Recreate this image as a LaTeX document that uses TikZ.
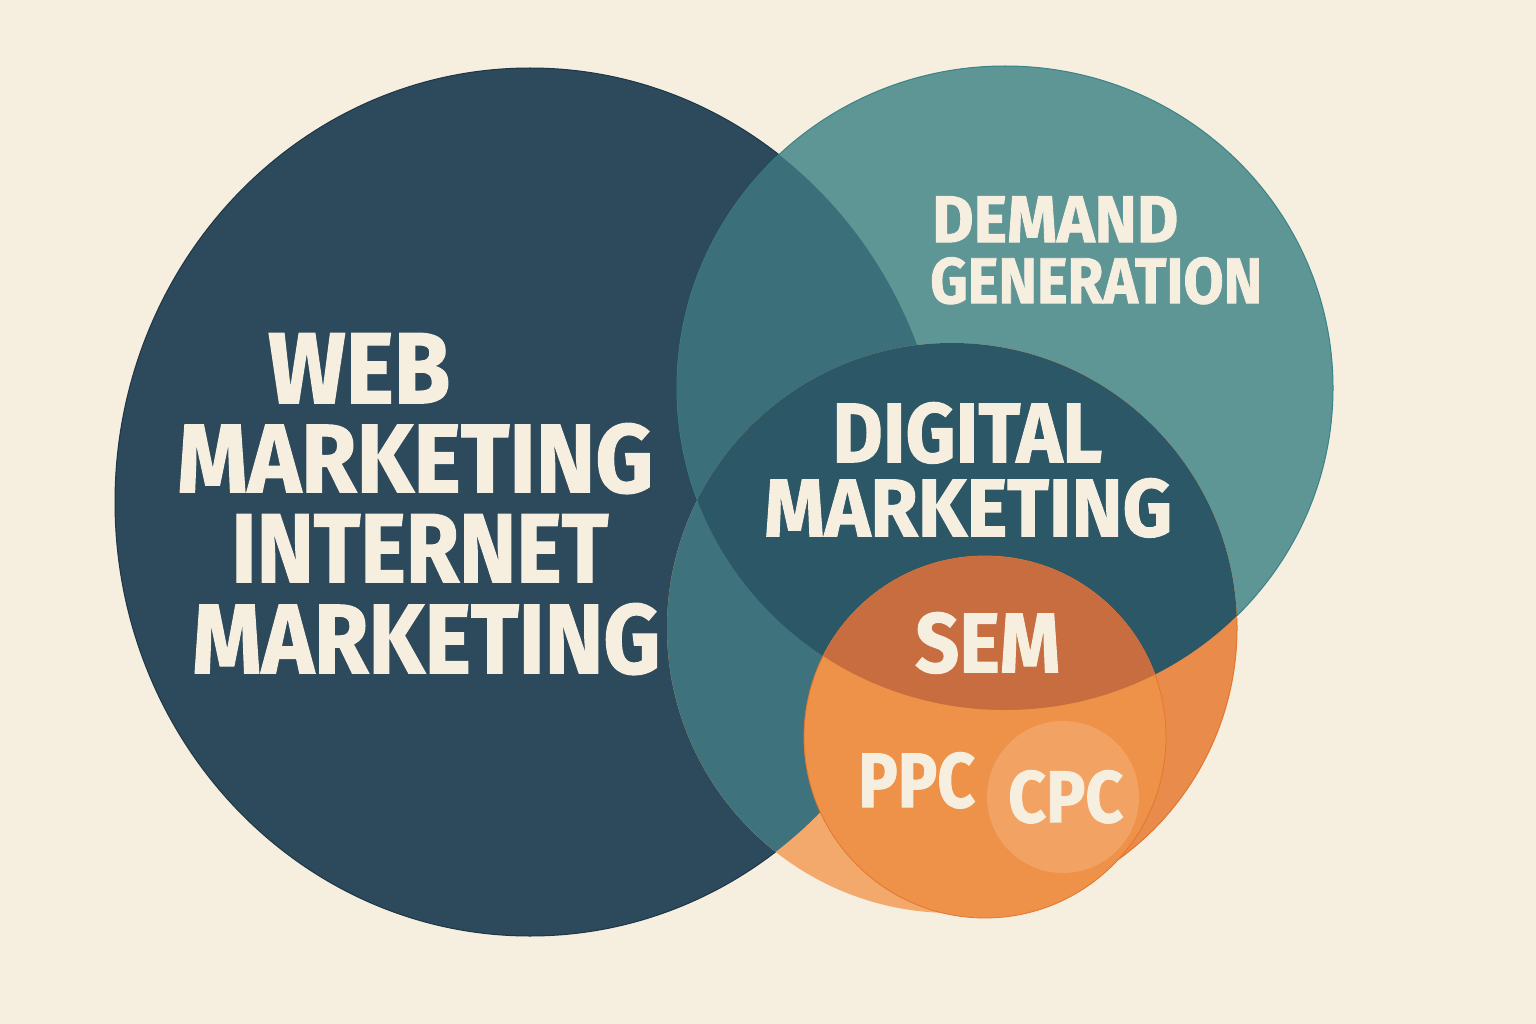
\documentclass[tikz,border=0pt]{standalone}
\usepackage{fontspec}
\usepackage{graphicx}
\newfontfamily\lblfont{Fira Sans}[BoldFeatures={FakeBold=1.3}]
\definecolor{bgc}{HTML}{F6EEDF}
\definecolor{navyc}{HTML}{2C4A5C}
\definecolor{navyedge}{HTML}{1E3646}
\definecolor{tealc}{HTML}{5E9595}
\definecolor{tealedge}{HTML}{3A8388}
\definecolor{lensc}{HTML}{3B6F7A}
\definecolor{midtealc}{HTML}{3E727D}
\definecolor{digc}{HTML}{2C5767}
\definecolor{lightorc}{HTML}{F3A86C}
\definecolor{rightorc}{HTML}{E98B4A}
\definecolor{orc}{HTML}{EE9149}
\definecolor{oredge}{HTML}{E4772F}
\definecolor{semc}{HTML}{C76D40}
\definecolor{cpcc}{HTML}{F2A363}
\definecolor{txtc}{HTML}{F6EEDF}
\tikzset{
  lbl/.style={anchor=north west, inner sep=0pt, text=txtc},
}
\begin{document}
\begin{tikzpicture}[x=1pt,y=-1pt]
\useasboundingbox (0,0) rectangle (1536,1024);
\fill[bgc] (0,0) rectangle (1536,1024);
% centres
\coordinate (A) at (530,502);
\coordinate (B) at (1005,388);
\coordinate (E) at (952,628);
\coordinate (F) at (985,737);
\coordinate (C) at (1063,797);
% big navy
\fill[navyc, draw=navyedge, line width=1pt] (A) ellipse [x radius=415pt, y radius=434pt];
% demand generation teal
\fill[tealc, draw=tealedge, line width=1pt] (B) ellipse [x radius=328pt, y radius=322pt];
\begin{scope}
  \clip (A) ellipse [x radius=415pt, y radius=434pt];
  \fill[lensc] (B) ellipse [x radius=328pt, y radius=322pt];
\end{scope}
% circle E
\fill[lightorc] (E) circle [radius=285pt];
\begin{scope}
  \clip (E) circle [radius=285pt];
  \fill[rightorc] (985,300) rectangle (1300,950);
  \fill[midtealc] (A) ellipse [x radius=415pt, y radius=434pt];
  \fill[digc] (B) ellipse [x radius=328pt, y radius=322pt];
\end{scope}
\draw[oredge, line width=1pt] (E) ++(-75:285pt) arc[start angle=-75, end angle=2, radius=285pt];
% SEM / PPC circle
\fill[orc, draw=oredge, line width=0.8pt] (F) circle [radius=181pt];
\begin{scope}
  \clip (F) circle [radius=181pt];
  \fill[semc] (B) ellipse [x radius=328pt, y radius=322pt];
\end{scope}
% CPC circle
\fill[cpcc] (C) circle [radius=76pt];
% labels
\node[lbl] (web)  at (268,333) {\resizebox{182pt}{70pt}{\lblfont\bfseries WEB}};
\node[lbl] (mk1)  at (177,423) {\resizebox{476pt}{69pt}{\lblfont\bfseries MARKETING}};
\node[lbl] (inet) at (231,514) {\resizebox{377pt}{68pt}{\lblfont\bfseries INTERNET}};
\node[lbl] (mk2)  at (192,603) {\resizebox{468pt}{70pt}{\lblfont\bfseries MARKETING}};
\node[lbl] (dem)  at (932,196) {\resizebox{246pt}{46pt}{\lblfont\bfseries DEMAND}};
\node[lbl] (gen)  at (930,257) {\resizebox{332pt}{46pt}{\lblfont\bfseries GENERATION}};
\node[lbl] (dig)  at (832,402) {\resizebox{270pt}{60pt}{\lblfont\bfseries DIGITAL}};
\node[lbl] (mk3)  at (764,478) {\resizebox{408pt}{58pt}{\lblfont\bfseries MARKETING}};
\node[lbl] (sem)  at (915,612) {\resizebox{145pt}{60pt}{\lblfont\bfseries SEM}};
\node[lbl] (ppc)  at (858,752) {\resizebox{117pt}{55pt}{\lblfont\bfseries PPC}};
\node[lbl] (cpc)  at (1008,770) {\resizebox{115pt}{52pt}{\lblfont\bfseries CPC}};
\end{tikzpicture}
\end{document}
